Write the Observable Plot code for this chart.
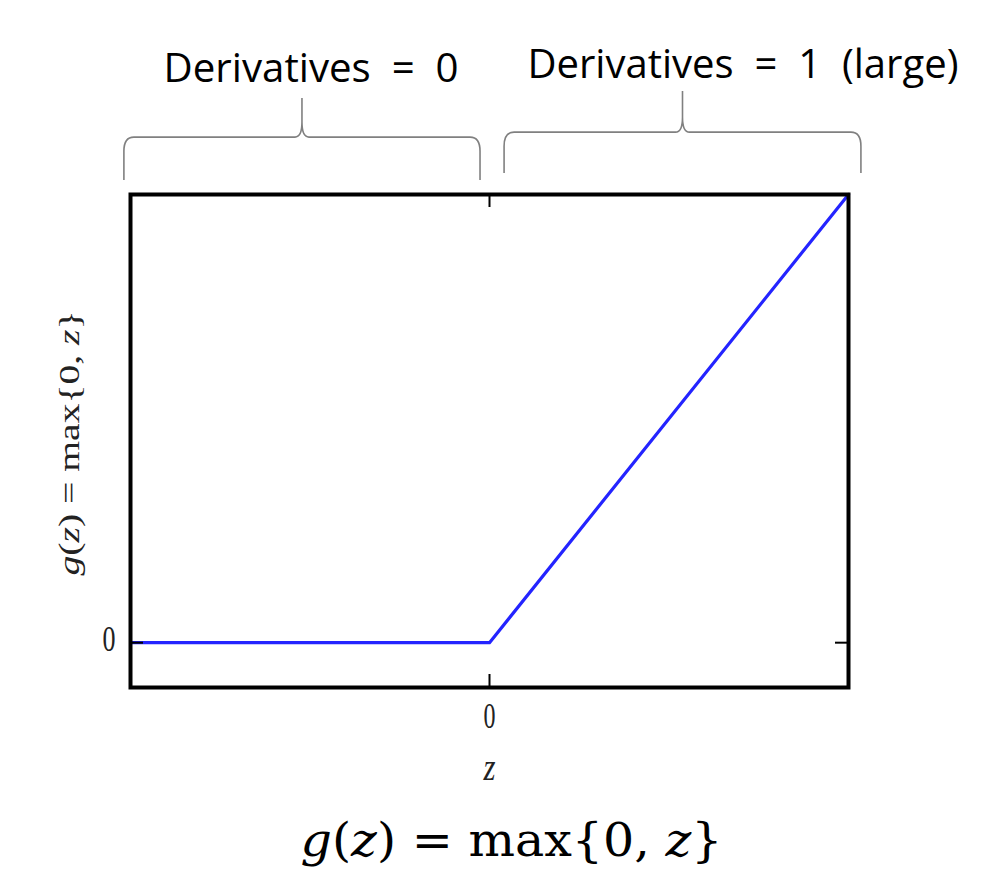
<!DOCTYPE html>
<html>
<head>
<meta charset="utf-8">
<script src="https://cdn.jsdelivr.net/npm/d3@7"></script>
<script src="https://cdn.jsdelivr.net/npm/@observablehq/plot@0.6"></script>
<style>
  html, body { margin: 0; padding: 0; background: #fff; }
</style>
</head>
<body>
<script>
// ReLU data: g(z) = max{0, z}
const zValues = [-1, 0, 1];
const gValues = [0, 0, 1];
const xTicks = [0];
const yTicks = [0];

// Brace annotations (regions of z, drawn above the frame)
const braceLabels = ["Derivatives = 0", "Derivatives = 1 (large)"];
const braceFrom = [-1.017, 0.042];
const braceTo = [-0.025, 1.036];
const braceBottom = [1.031, 1.047];
const braceMid = [1.127, 1.138];
const braceTip = [1.214, 1.230];
const labelX = [-0.497, 0.706];
const labelY = [1.250, 1.259];

const relu = zValues.map((z, i) => ({z, g: gValues[i]}));
const nb = "\u00a0";

const braceMark = (index, {x, y}) => {
  const g = d3.create("svg:g")
    .attr("fill", "none")
    .attr("stroke", "#808080")
    .attr("stroke-width", 1.6);
  braceFrom.forEach((b0, i) => {
    const x0 = x(b0), x1 = x(braceTo[i]), xm = (x0 + x1) / 2;
    const yb = y(braceBottom[i]), ym = y(braceMid[i]), yt = y(braceTip[i]);
    const d = `M${x0},${yb} L${x0},${ym + 14} Q${x0},${ym} ${x0 + 10},${ym} L${xm - 7},${ym} Q${xm},${ym} ${xm},${ym - 15} L${xm},${yt}` +
              ` M${xm},${ym - 15} Q${xm},${ym} ${xm + 7},${ym} L${x1 - 10},${ym} Q${x1},${ym} ${x1},${ym + 14} L${x1},${yb}`;
    g.append("path").attr("d", d);
  });
  return g.node();
};

const plot = Plot.plot({
  width: 986,
  height: 880,
  marginLeft: 130,
  marginRight: 138,
  marginTop: 194,
  marginBottom: 193,
  x: {domain: [-1, 1], axis: null},
  y: {domain: [-0.1, 1.0], axis: null},
  style: {background: "#fff", fontFamily: "Liberation Serif", color: "#111"},
  marks: [
    Plot.line(relu, {x: "z", y: "g", stroke: "#2424ff", strokeWidth: 3.2}),
    Plot.tickX(xTicks, {x: d => d, stroke: "#000", strokeWidth: 2, insetBottom: 480}),
    Plot.tickX(xTicks, {x: d => d, stroke: "#000", strokeWidth: 2, insetTop: 480}),
    Plot.tickY(yTicks, {y: d => d, stroke: "#000", strokeWidth: 2, insetRight: 705}),
    Plot.tickY(yTicks, {y: d => d, stroke: "#000", strokeWidth: 2, insetLeft: 705}),
    Plot.frame({stroke: "#000", strokeWidth: 4}),
    Plot.text(yTicks, {y: d => d, text: d => String(d), frameAnchor: "left", textAnchor: "middle", dx: -21.5, dy: -3, fontSize: 35, fill: "#222", className: "ytick"}),
    Plot.text(xTicks, {x: d => d, text: d => String(d), frameAnchor: "bottom", textAnchor: "middle", dy: 29.5, lineAnchor: "middle", fontSize: 35, fill: "#222", className: "xtick"}),
    Plot.text(["z"], {frameAnchor: "bottom", textAnchor: "middle", dy: 92, lineAnchor: "bottom", fontSize: 38, fontStyle: "italic", fill: "#222", className: "xlab"}),
    Plot.text(["g(z) = max{0, z}"], {frameAnchor: "left", textAnchor: "middle", rotate: -90, dx: -61, dy: 2, lineAnchor: "middle", fontSize: 29, fill: "#222", className: "ylab"}),
    Plot.text(braceLabels, {x: labelX, y: labelY, text: d => d.replace(/ /g, nb + nb), textAnchor: "middle", lineAnchor: "bottom", fontFamily: "Open Sans", fontSize: 40, fill: "#000", className: "bracelab"}),
    braceMark,
    Plot.text(["g(z) = max{0, z}"], {frameAnchor: "bottom", textAnchor: "middle", dx: 22, dy: 168, lineAnchor: "bottom", fontFamily: "DejaVu Serif", fontSize: 46, fill: "#000", className: "title"})
  ]
});

document.body.append(plot);

const root = plot.tagName.toLowerCase() === "svg" ? plot : plot.querySelector("svg");
const svg = d3.select(root);
function texts(cls, fontSize) {
  let sel = svg.selectAll(`g.${cls} text`);
  if (sel.empty()) {
    sel = svg.selectAll("g").filter(function () { return this.getAttribute("font-size") == String(fontSize); }).selectAll("text");
  }
  return sel;
}
function rich(cls, fontSize, parts, length) {
  texts(cls, fontSize).each(function () {
    const t = d3.select(this);
    t.text(null);
    parts.forEach(([s, it]) => t.append("tspan").attr("font-style", it ? "italic" : "normal").style("font-style", it ? "italic" : "normal").text(s));
    if (length) t.attr("textLength", length).attr("lengthAdjust", "spacingAndGlyphs");
  });
}
function squeeze(cls, fontSize, lengths) {
  texts(cls, fontSize).each(function (d, i) {
    d3.select(this).attr("textLength", lengths[i] ?? lengths[0]).attr("lengthAdjust", "spacingAndGlyphs");
  });
}
const formula = [["g", true], ["(", false], ["z", true], [")", false], [nb + "=" + nb, false], ["max", false], ["{0," + nb, false], ["z", true], ["}", false]];
rich("ylab", 29, formula, 265);
rich("title", 46, formula, 422);
squeeze("ytick", 35, [13]);
squeeze("xtick", 35, [12]);
squeeze("xlab", 38, [12]);
squeeze("bracelab", 40, [295, 431]);
</script>
</body>
</html>
